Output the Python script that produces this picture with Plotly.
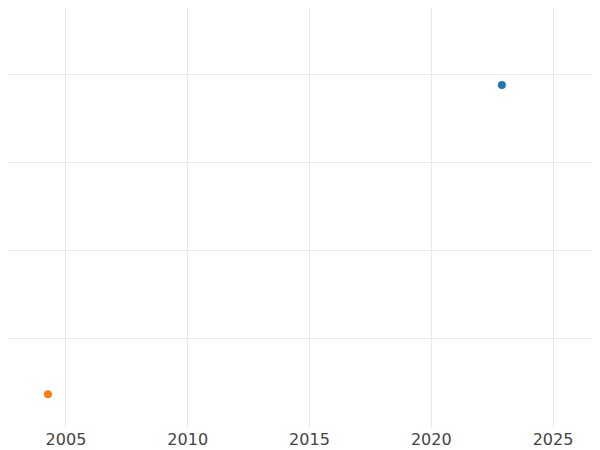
import plotly.graph_objects as go

years_a = [2022.9]
vals_a = [3.875]
years_b = [2004.26]
vals_b = [0.364]

fig = go.Figure()
fig.add_trace(go.Scatter(x=years_a, y=vals_a, mode="markers", marker=dict(color="#1f77b4", size=8)))
fig.add_trace(go.Scatter(x=years_b, y=vals_b, mode="markers", marker=dict(color="#ff7f0e", size=8)))
fig.update_layout(
    width=592, height=442, showlegend=False,
    margin=dict(l=0, r=0, t=0, b=22),
    plot_bgcolor="white", paper_bgcolor="white",
    font=dict(family="DejaVu Sans", size=16, color="#444"),
    xaxis=dict(range=[2002.62, 2026.93], tickvals=[2005, 2010, 2015, 2020, 2025],
               showgrid=True, gridcolor="#e8e8e8", zeroline=False, ticks=""),
    yaxis=dict(range=[-0.02, 4.75], tickvals=[1, 2, 3, 4], showticklabels=False,
               showgrid=True, gridcolor="#e8e8e8", zeroline=False),
)
fig.write_html("out.html")
